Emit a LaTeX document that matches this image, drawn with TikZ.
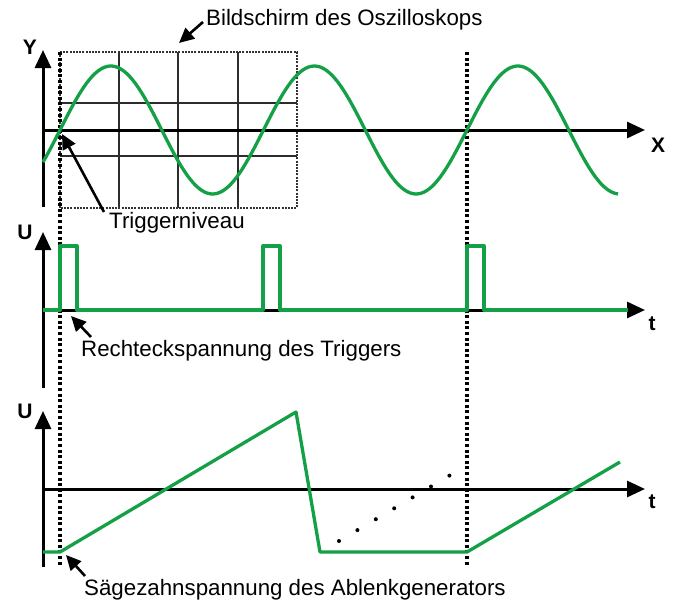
\documentclass[tikz,border=0pt]{standalone}
\usepackage{fontspec}
\setmainfont{Liberation Sans}
\usetikzlibrary{arrows.meta}
\definecolor{tracegreen}{RGB}{20,160,70}

\begin{document}
\begin{tikzpicture}[x=1pt,y=-1pt,
  axisline/.style={line width=3pt, -{Triangle[length=18pt,width=16pt]}},
  trace/.style={line width=3.3pt, tracegreen, line join=round},
  pointer/.style={line width=2.6pt, -{Triangle[length=15pt,width=14pt]}},
  trigline/.style={line width=3.4pt, dash pattern=on 3pt off 2.6pt},
  txt/.style={font=\fontsize{22.3}{26}\selectfont, inner sep=0pt},
  axlab/.style={font=\fontsize{21}{25}\selectfont\bfseries, inner sep=0pt}]

\useasboundingbox (0,0) rectangle (673,605);

% Bildschirm (Raster)
\foreach \gx in {119,178,238}
  \draw[gray!35!black, line width=2pt] (\gx,52) -- (\gx,208);
\foreach \gy in {103,156}
  \draw[gray!35!black, line width=2pt] (60,\gy) -- (297,\gy);
\draw[gray!40!black, line width=2.4pt, dash pattern=on 2pt off 1.2pt] (60,52) rectangle (297,208);

% Achsen
\draw[axisline] (43,207) -- (43,50);
\draw[axisline] (43,130) -- (645,130);
\draw[axisline] (43,388) -- (43,232);
\draw[axisline] (43,310) -- (645,310);
\draw[axisline] (43,567) -- (43,411);
\draw[axisline] (43,489) -- (645,489);

\node[axlab] (ylab) at (30,47) {Y};
\node[axlab] (xlab) at (658,145) {X};
\node[axlab] (ulab1) at (25,232) {U};
\node[axlab] (tlab1) at (652,324) {t};
\node[axlab] (ulab2) at (25,411) {U};
\node[axlab] (tlab2) at (652,502) {t};

% Triggerzeitpunkte
\draw[trigline] (60,52) -- (60,567);
\draw[trigline] (467,52) -- (467,567);

% Sinus
\draw[trace, domain=43:618, samples=200, variable=\x]
  plot (\x, {130 - 64*sin((\x-60)/203.5*360)});

% Rechteckspannung
\draw[trace] (43,310) -- (60,310) -- (60,246) -- (77,246) -- (77,310)
  -- (263,310) -- (263,246) -- (280,246) -- (280,310)
  -- (467,310) -- (467,246) -- (484,246) -- (484,310) -- (628,310);

% Saegezahn
\draw[trace] (43,552) -- (60,552) -- (296,412) -- (320,552) -- (467,552) -- (620,462);
\foreach \i in {0,...,6}
  \fill (339+18.4*\i, 541-10.9*\i) circle (2pt);

% Beschriftungen
\node[txt, anchor=west] (screen) at (206,20) {Bildschirm des Oszilloskops};
\node[txt, anchor=west] (level) at (109,223) {Triggerniveau};
\node[txt, anchor=west] (pulse) at (81,351) {Rechteckspannung des Triggers};
\node[txt, anchor=west] (ramp) at (84,590) {Sägezahnspannung des Ablenkgenerators};

\coordinate (screentail) at (203,22);
\coordinate (screentip) at (179,43);
\coordinate (leveltail) at (104,212);
\coordinate (leveltip) at (62,134);
\coordinate (pulsetail) at (91,337);
\coordinate (pulsetip) at (71,316);
\coordinate (ramptail) at (85,576);
\coordinate (ramptip) at (66,555);

\draw[pointer] (screentail) -- (screentip);
\draw[pointer] (leveltail) -- (leveltip);
\draw[pointer] (pulsetail) -- (pulsetip);
\draw[pointer] (ramptail) -- (ramptip);
\end{tikzpicture}
\end{document}
